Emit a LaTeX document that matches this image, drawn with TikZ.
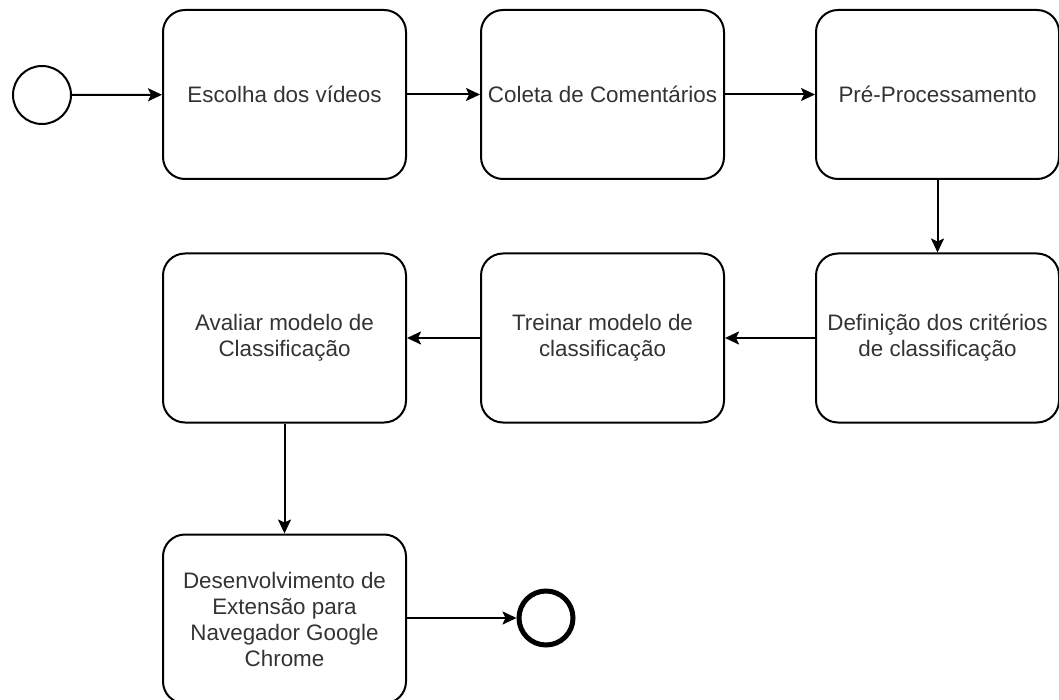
\documentclass[tikz,border=0pt]{standalone}
\usepackage{fontspec}
\setmainfont{Liberation Sans}
\usetikzlibrary{arrows.meta}
\definecolor{txt}{HTML}{333333}
\begin{document}
\begin{tikzpicture}[x=1pt,y=-1pt,
  task/.style={draw=black, line width=2pt, rectangle, rounded corners=22pt,
    minimum width=243pt, minimum height=169pt, align=center, text=txt,
    font=\fontsize{22.4}{26}\selectfont, inner sep=2pt},
  startev/.style={draw=black, line width=2pt, circle, minimum size=58pt, inner sep=0pt},
  endev/.style={draw=black, line width=5pt, circle, minimum size=54pt, inner sep=0pt},
  flow/.style={line width=2pt, -{Stealth[length=14pt,width=13pt,inset=3pt]}}]
\useasboundingbox (0,0) rectangle (1059,700);
\clip (0,0) rectangle (1059,700);

% events
\node[startev] (start) at (42,95) {};
\node[endev] (end) at (546,618) {};

% first row
\node[task] (escolha) at (284.5,94.5) {Escolha dos vídeos};
\node[task] (coleta) at (602.5,94.5) {Coleta de Comentários};
\node[task] (prep) at (937.5,94.5) {Pré-Processamento};

% second row
\node[task] (criterios) at (937.5,338) {Definição dos critérios\\de classificação};
\node[task] (treinar) at (602.5,338) {Treinar modelo de\\classificação};
\node[task] (avaliar) at (284.5,338) {Avaliar modelo de\\Classificação};

% third row
\node[task] (extensao) at (284.5,619) {Desenvolvimento de\\Extensão para\\Navegador Google\\Chrome};

% sequence flows
\draw[flow] (start) -- (escolha);
\draw[flow] (escolha) -- (coleta);
\draw[flow] (coleta) -- (prep);
\draw[flow] (prep.south) -- (criterios.north);
\draw[flow] (criterios) -- (treinar);
\draw[flow] (treinar) -- (avaliar);
\draw[flow] (avaliar.south) -- (extensao.north);
\draw[flow] (extensao.east |- end) -- (end.west);
\end{tikzpicture}
\end{document}
